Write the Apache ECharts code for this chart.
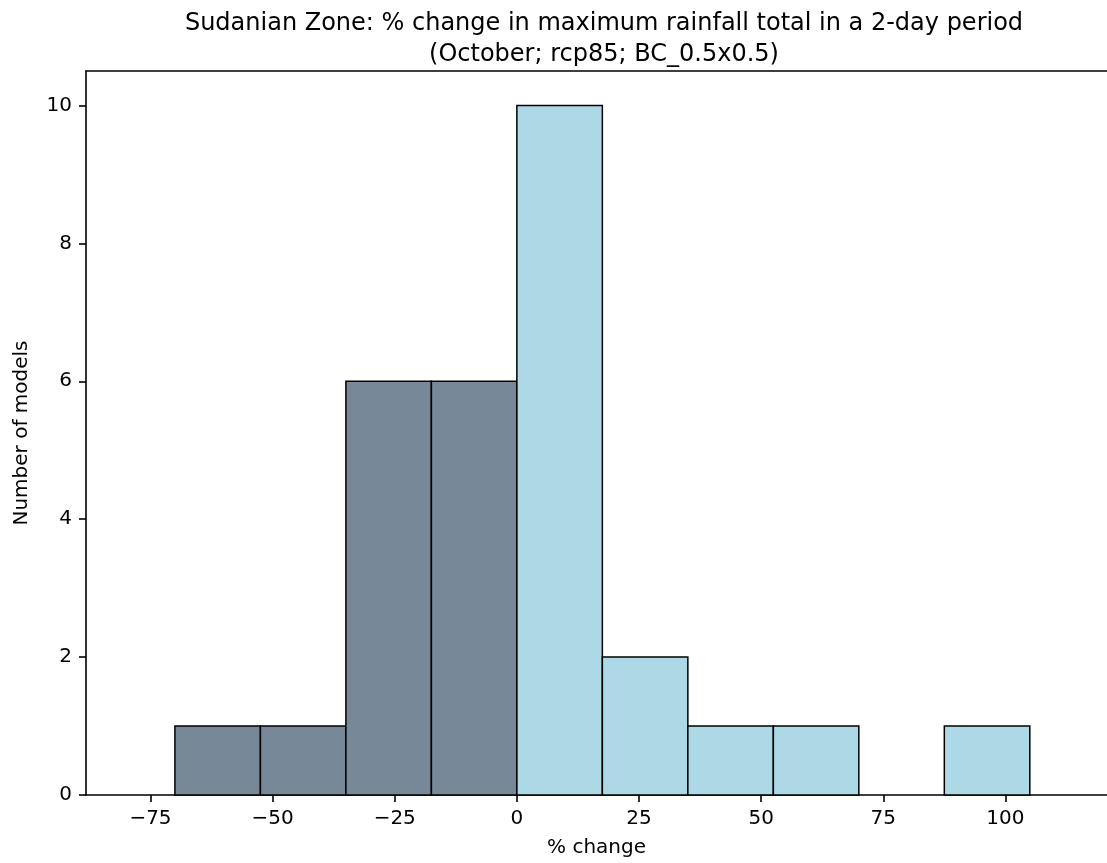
<!DOCTYPE html>
<html>
<head>
<meta charset="utf-8">
<script src="https://cdn.jsdelivr.net/npm/echarts@6/dist/echarts.min.js"></script>
<style>
html,body{margin:0;padding:0;background:#fff;}
#chart{width:1107px;height:863px;}
</style>
</head>
<body>
<div id="chart"></div>
<script>
const titleLines = ["Sudanian Zone: % change in maximum rainfall total in a 2-day period", "(October; rcp85; BC_0.5x0.5)"];
const xAxisName = "% change";
const yAxisName = "Number of models";
const binEdges = [-70, -52.5, -35, -17.5, 0, 17.5, 35, 52.5, 70, 87.5, 105];
const counts = [1, 1, 6, 6, 10, 2, 1, 1, 0, 1];
const xTicks = [-75, -50, -25, 0, 25, 50, 75, 100];
const yTicks = [0, 2, 4, 6, 8, 10];
const xRange = [-88.2, 120.8];
const yRange = [0, 10.5];

const negColor = "#778899";
const posColor = "#ADD8E6";
const font = "DejaVu Sans";

const bins = counts.map((c, i) => [binEdges[i], binEdges[i + 1], c]);

const chart = echarts.init(document.getElementById('chart'));
chart.setOption({
  animation: false,
  backgroundColor: '#fff',
  title: {
    text: titleLines.join('\n'),
    left: 599,
    top: 3,
    textAlign: 'center',
    textStyle: { fontFamily: font, fontSize: 24, fontWeight: 'normal', color: '#000', lineHeight: 31 }
  },
  grid: {
    left: 86, right: 0, top: 71, bottom: 67,
    show: false
  },
  xAxis: [{
    type: 'value',
    position: 'bottom',
    min: xRange[0], max: xRange[1],
    name: xAxisName, nameLocation: 'middle', nameGap: 43,
    nameTextStyle: { fontFamily: font, fontSize: 20, color: '#000' },
    axisLine: { show: true, onZero: false, lineStyle: { color: '#000', width: 1.6 } },
    axisTick: { show: true, inside: false, length: 7, lineStyle: { color: '#000', width: 1.6 }, customValues: xTicks },
    axisLabel: {
      fontFamily: font, fontSize: 20, color: '#000', margin: 14,
      customValues: xTicks,
      formatter: v => (v < 0 ? '\u2212' + Math.abs(v) : String(v))
    },
    splitLine: { show: false }
  }, {
    type: 'value',
    position: 'top',
    min: xRange[0], max: xRange[1],
    axisLine: { show: true, onZero: false, lineStyle: { color: '#000', width: 1.6 } },
    axisTick: { show: false },
    axisLabel: { show: false },
    splitLine: { show: false }
  }],
  yAxis: {
    type: 'value',
    min: yRange[0], max: yRange[1],
    name: yAxisName, nameLocation: 'middle', nameGap: 54, nameRotate: 90,
    nameTextStyle: { fontFamily: font, fontSize: 20, color: '#000' },
    axisLine: { show: true, onZero: false, lineStyle: { color: '#000', width: 1.6 } },
    axisTick: { show: true, inside: false, length: 7, lineStyle: { color: '#000', width: 1.6 }, customValues: yTicks },
    axisLabel: { fontFamily: font, fontSize: 20, color: '#000', margin: 14, customValues: yTicks },
    splitLine: { show: false }
  },
  series: [{
    type: 'custom',
    xAxisIndex: 0,
    data: bins,
    encode: { x: [0, 1], y: 2 },
    renderItem: function (params, api) {
      const x0 = api.value(0), x1 = api.value(1), c = api.value(2);
      if (!c) return null;
      const p0 = api.coord([x0, 0]);
      const p1 = api.coord([x1, c]);
      return {
        type: 'rect',
        shape: { x: p0[0], y: p1[1], width: p1[0] - p0[0], height: p0[1] - p1[1] },
        style: { fill: x0 < 0 ? negColor : posColor, stroke: '#000', lineWidth: 1.5 }
      };
    }
  }]
});
</script>
</body>
</html>
